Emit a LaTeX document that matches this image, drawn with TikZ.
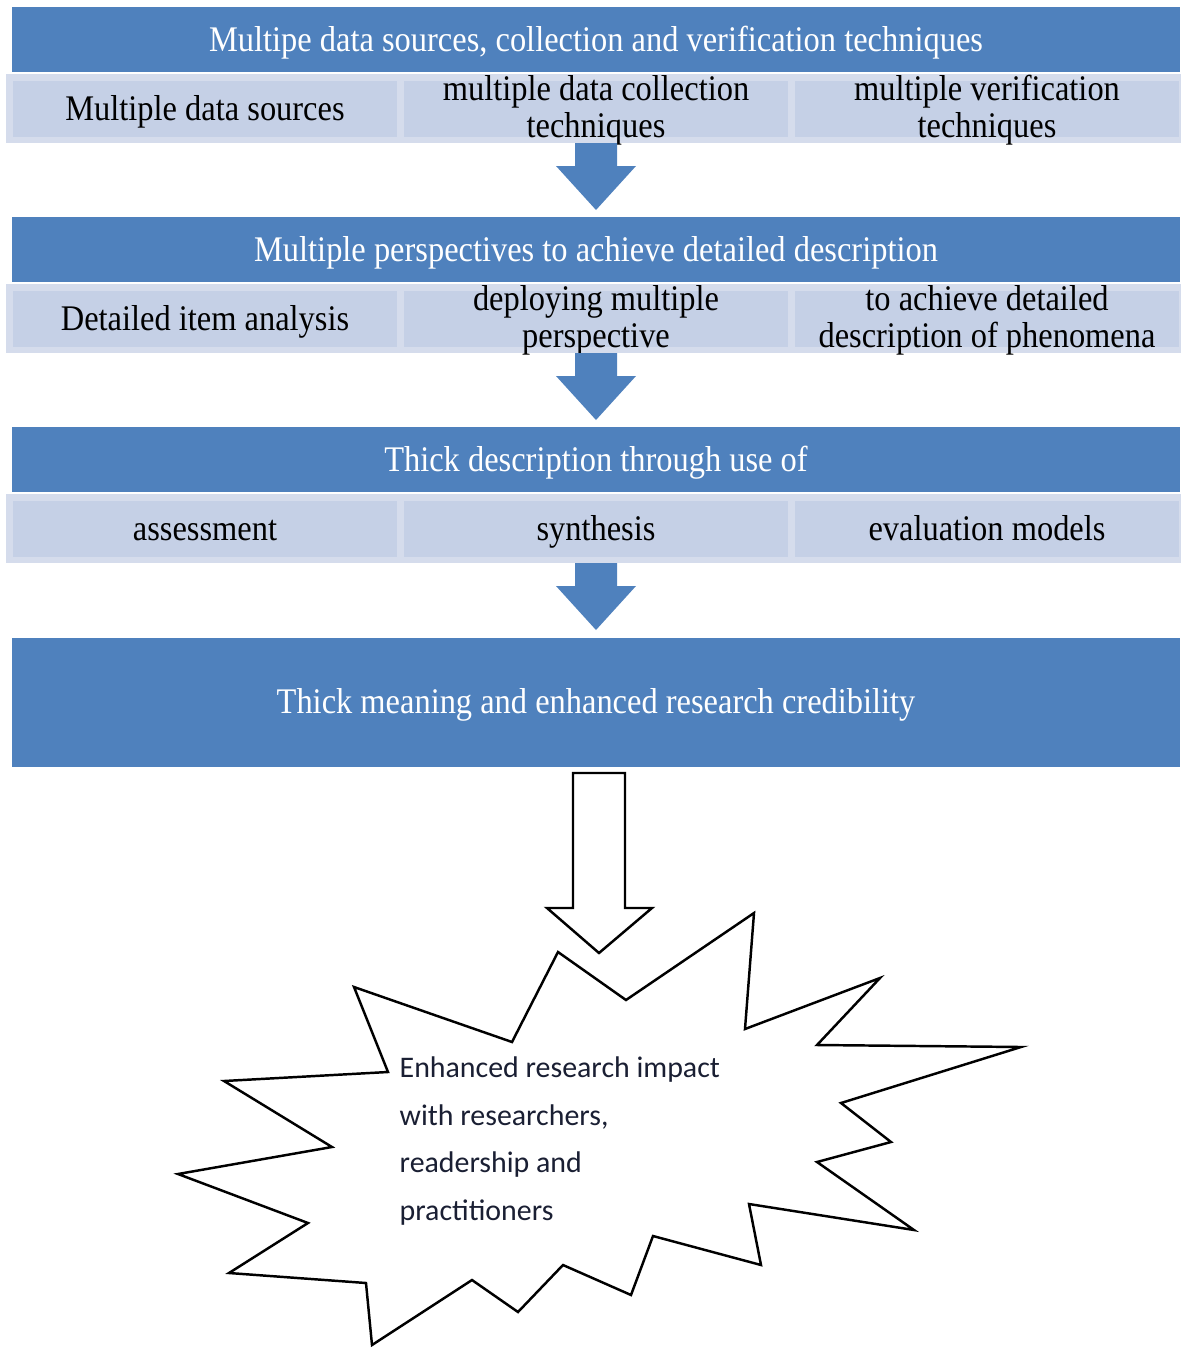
\documentclass[tikz,border=0pt]{standalone}
\usepackage{fontspec}
\setmainfont[FakeStretch=0.9]{Liberation Serif}
\newfontfamily\starfont{Carlito}
\definecolor{hdrblue}{HTML}{4F81BD}
\definecolor{cellblue}{HTML}{C5D0E6}
\definecolor{rimblue}{HTML}{D5DCEC}
\definecolor{starink}{HTML}{1A1F33}
\tikzset{
  hdrtext/.style={text=white, font=\fontsize{10.25}{10.5}\selectfont, inner sep=0pt},
  celltext/.style={text=black, font=\fontsize{10.25}{10.5}\selectfont, align=center, inner sep=0pt},
  startext/.style={text=starink, font=\starfont\fontsize{8.5}{13.5}\selectfont, align=left, inner sep=0pt},
  bluearrow/.style={fill=hdrblue},
  whitearrow/.style={draw=black, fill=white, line width=0.7pt, line join=miter},
}
\begin{document}
\begin{tikzpicture}[x=0.01cm, y=-0.01cm]
  \useasboundingbox (0,0) rectangle (1181,1348);

  %First row
  \fill[hdrblue] (12,7) rectangle (1180,72);
  \fill[rimblue] (6,74) rectangle (1181,143);
  \fill[cellblue] (13,81) rectangle (397,137);
  \fill[cellblue] (404,81) rectangle (788,137);
  \fill[cellblue] (795,81) rectangle (1179,137);
  \node[hdrtext, anchor=base] (hdrA) at (596,51) {Multipe data sources, collection and verification techniques};
  \node[celltext, anchor=base] (sources) at (205,120) {Multiple data sources};
  \node[celltext, anchor=base] (collection) at (596,137) {multiple data collection\\techniques};
  \node[celltext, anchor=base] (verification) at (987,137) {multiple verification\\techniques};

  %Second row
  \fill[hdrblue] (12,217) rectangle (1180,282);
  \fill[rimblue] (6,284) rectangle (1181,353);
  \fill[cellblue] (13,291) rectangle (397,347);
  \fill[cellblue] (404,291) rectangle (788,347);
  \fill[cellblue] (795,291) rectangle (1179,347);
  \node[hdrtext, anchor=base] (hdrB) at (596,261) {Multiple perspectives to achieve detailed description};
  \node[celltext, anchor=base] (items) at (205,330) {Detailed item analysis};
  \node[celltext, anchor=base] (deploying) at (596,347) {deploying multiple\\perspective};
  \node[celltext, anchor=base] (phenomena) at (987,347) {to achieve detailed\\description of phenomena};

  %Third row
  \fill[hdrblue] (12,427) rectangle (1180,492);
  \fill[rimblue] (6,494) rectangle (1181,563);
  \fill[cellblue] (13,501) rectangle (397,557);
  \fill[cellblue] (404,501) rectangle (788,557);
  \fill[cellblue] (795,501) rectangle (1179,557);
  \node[hdrtext, anchor=base] (hdrC) at (596,471) {Thick description through use of};
  \node[celltext, anchor=base] (assessment) at (205,540) {assessment};
  \node[celltext, anchor=base] (synthesis) at (596,540) {synthesis};
  \node[celltext, anchor=base] (models) at (987,540) {evaluation models};

  %Block arrows between rows
  \fill[bluearrow] (575,143) -- (617,143) -- (617,166) -- (636,166) -- (596,210) -- (556,166) -- (575,166) -- cycle;
  \fill[bluearrow] (575,353) -- (617,353) -- (617,376) -- (636,376) -- (596,420) -- (556,376) -- (575,376) -- cycle;
  \fill[bluearrow] (575,563) -- (617,563) -- (617,586) -- (636,586) -- (596,630) -- (556,586) -- (575,586) -- cycle;

  %Result box
  \fill[hdrblue] (12,638) rectangle (1180,767);
  \node[hdrtext, anchor=base] (credibility) at (596,713) {Thick meaning and enhanced research credibility};

  %Open arrow
  \draw[whitearrow] (573,773) -- (625,773) -- (625,908) -- (652,908) -- (599,953) -- (547,908) -- (573,908) -- cycle;

  %Explosion
  \draw[whitearrow] (354,987) -- (512,1042) -- (558,952) -- (626,1000) -- (754,913) -- (745,1029)
    -- (880,978) -- (817,1045) -- (1021,1047) -- (841,1103) -- (891,1142) -- (817,1162)
    -- (914,1230) -- (749,1204) -- (761,1265) -- (653,1236) -- (631,1295) -- (563,1265)
    -- (518,1312) -- (472,1280) -- (372,1345) -- (366,1283) -- (229,1273) -- (308,1223)
    -- (178,1174) -- (332,1147) -- (224,1081) -- (388,1072) -- cycle;
  \node[startext, anchor=base west] (impact) at (399,1220) {Enhanced research impact\\with researchers,\\readership and\\practitioners};
\end{tikzpicture}
\end{document}
